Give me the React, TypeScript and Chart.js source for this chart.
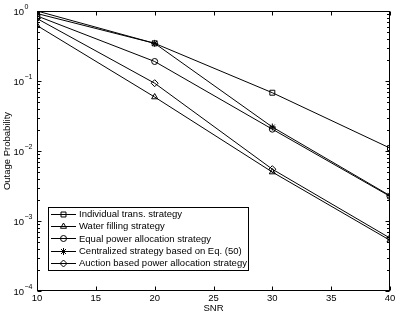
import React, { useEffect, useRef } from "react";
import { Chart, registerables } from "chart.js";
import { drawPoint } from "chart.js/helpers";

Chart.register(...registerables);

const snr = [10, 20, 30, 40];
const xTicks = [10, 15, 20, 25, 30, 35, 40];
const yExponents = [0, -1, -2, -3, -4];

const individual = [0.92, 0.345, 0.068, 0.011];
const waterFilling = [0.62, 0.059, 0.005, 0.00053];
const equalPower = [0.85, 0.19, 0.0205, 0.00225];
const centralized = [1.0, 0.345, 0.022, 0.0023];
const auction = [0.78, 0.093, 0.0055, 0.00057];

const seriesLabels = [
  "Individual trans. strategy",
  "Water filling strategy",
  "Equal power allocation strategy",
  "Centralized strategy based on Eq. (50)",
  "Auction based power allocation strategy",
];
const seriesMarkers = ["rect", "triangle", "circle", "star", "rectRot"];
const seriesRadius = [3.5, 3.5, 3, 3.5, 3.5];

const FONT = "'Liberation Sans', Arial, Helvetica, sans-serif";

const framePlugin = {
  id: "frame",
  afterDraw(chart: any) {
    const ctx = chart.ctx;
    const a = chart.chartArea;
    const xs = chart.scales.x;
    const ys = chart.scales.y;
    ctx.save();
    ctx.strokeStyle = "#000";
    ctx.lineWidth = 1;
    const L = Math.round(a.left) + 0.5;
    const R = Math.round(a.right) - 0.5;
    const T = Math.round(a.top) + 0.5;
    const B = Math.round(a.bottom) - 0.5;
    ctx.strokeRect(L, T, R - L, B - T);
    ctx.beginPath();
    for (const v of xTicks) {
      const px = Math.round(xs.getPixelForValue(v)) + 0.5;
      ctx.moveTo(px, B);
      ctx.lineTo(px, B - 4);
      ctx.moveTo(px, T);
      ctx.lineTo(px, T + 4);
    }
    for (let e = -4; e <= 0; e++) {
      for (let m = 1; m <= 9; m++) {
        const v = m * Math.pow(10, e);
        if (v > 1 + 1e-9) break;
        const py = Math.round(ys.getPixelForValue(v)) + 0.5;
        const len = m === 1 ? 4 : 2.5;
        ctx.moveTo(L, py);
        ctx.lineTo(L + len, py);
        ctx.moveTo(R, py);
        ctx.lineTo(R - len, py);
      }
    }
    ctx.stroke();

    ctx.fillStyle = "#000";
    ctx.textBaseline = "middle";
    for (const e of yExponents) {
      const py = ys.getPixelForValue(Math.pow(10, e));
      ctx.font = `9.5px ${FONT}`;
      ctx.textAlign = "right";
      ctx.fillText("10", 24, py + 1);
      ctx.font = `7px ${FONT}`;
      ctx.textAlign = "left";
      ctx.fillText(e === 0 ? "0" : "\u2212" + String(-e), 24.5, py - 4);
    }

    const bx = 48.5, by = 207.5, bw = 200, bh = 63;
    ctx.fillStyle = "#fff";
    ctx.fillRect(bx, by, bw, bh);
    ctx.strokeRect(bx, by, bw, bh);
    ctx.font = `9.5px ${FONT}`;
    ctx.textAlign = "left";
    ctx.textBaseline = "middle";
    chart.data.datasets.forEach((ds: any, i: number) => {
      const y = 214 + i * 12.2;
      const yy = Math.round(y) + 0.5;
      ctx.strokeStyle = "#000";
      ctx.lineWidth = 1;
      ctx.beginPath();
      ctx.moveTo(51, yy);
      ctx.lineTo(76, yy);
      ctx.stroke();
      ctx.fillStyle = "rgba(0,0,0,0)";
      drawPoint(
        ctx,
        { pointStyle: ds.pointStyle, radius: ds.pointRadius, borderWidth: 1, rotation: 0 },
        63.5,
        yy
      );
      ctx.fillStyle = "#000";
      ctx.fillText(ds.label, 79, y + 0.5);
    });
    ctx.restore();
  },
};

export default function App() {
  const ref = useRef<HTMLCanvasElement | null>(null);
  useEffect(() => {
    if (!ref.current) return;
    const all = [individual, waterFilling, equalPower, centralized, auction];
    const chart = new Chart(ref.current, {
      type: "line",
      data: {
        datasets: all.map((vals, i) => ({
          label: seriesLabels[i],
          data: snr.map((x, j) => ({ x, y: vals[j] })),
          borderColor: "#000",
          backgroundColor: "rgba(0,0,0,0)",
          borderWidth: 1,
          pointStyle: seriesMarkers[i] as any,
          pointRadius: seriesRadius[i],
          pointBorderColor: "#000",
          pointBackgroundColor: "rgba(0,0,0,0)",
          pointBorderWidth: 1,
          tension: 0,
          fill: false,
        })),
      },
      plugins: [framePlugin],
      options: {
        animation: false,
        responsive: false,
        maintainAspectRatio: false,
        layout: { padding: { top: 11, right: 9, left: 0, bottom: 0 } },
        plugins: { legend: { display: false }, tooltip: { enabled: false } },
        scales: {
          x: {
            type: "linear",
            min: 10,
            max: 40,
            afterBuildTicks: (scale: any) => {
              scale.ticks = xTicks.map((v) => ({ value: v }));
            },
            afterFit: (scale: any) => {
              scale.height = 25;
            },
            grid: { display: false, drawTicks: false, tickLength: 0 },
            border: { display: false },
            ticks: {
              color: "#000",
              font: { family: FONT, size: 9.5 },
              padding: 2,
              maxRotation: 0,
              autoSkip: false,
            },
            title: {
              display: true,
              text: "SNR",
              color: "#000",
              font: { family: FONT, size: 9.5 },
              padding: { top: 0, bottom: 2 },
            },
          },
          y: {
            type: "logarithmic",
            min: 1e-4,
            max: 1,
            afterFit: (scale: any) => {
              scale.width = 37;
            },
            grid: { display: false, drawTicks: false, tickLength: 0 },
            border: { display: false },
            ticks: { display: false },
            title: {
              display: true,
              text: "Outage Probability",
              color: "#000",
              font: { family: FONT, size: 9.5 },
              padding: { top: 2, bottom: 0 },
            },
          },
        },
      },
    });
    return () => chart.destroy();
  }, []);
  return (
    <div style={{ position: "fixed", left: 0, top: 0, width: 399, height: 316, background: "#fff" }}>
      <canvas ref={ref} width={399} height={316} style={{ width: 399, height: 316, display: "block" }} />
    </div>
  );
}
